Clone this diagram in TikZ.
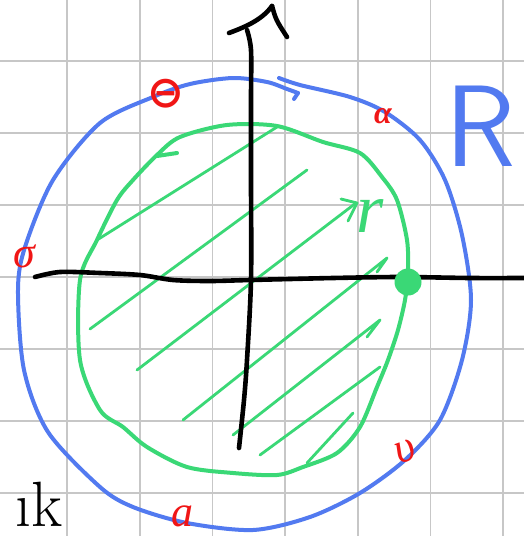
\documentclass[tikz,border=0pt]{standalone}
\usepackage{fontspec}
\newfontfamily\handfont{Liberation Serif}
\newfontfamily\marksymfont{DejaVu Sans}
\definecolor{penblue}{RGB}{82,122,240}
\definecolor{pengreen}{RGB}{58,216,118}
\definecolor{penred}{RGB}{240,22,22}
\begin{document}
\begin{tikzpicture}[x=0.5pt,y=-0.5pt,
  paperline/.style={black!22,line width=0.9pt},
  axisline/.style={line width=2.3pt,line cap=round,line join=round},
  outer/.style={penblue,line width=2pt,line cap=round,line join=round},
  inner/.style={pengreen,line width=2pt,line cap=round,line join=round},
  hatchline/.style={pengreen,line width=1.4pt,line cap=round,line join=round},
  redmark/.style={text=penred,inner sep=0pt}]
\fill[white,use as bounding box] (0,0) rectangle (524,536);
% paper grid
\foreach \gx in {67,139.7,212.4,285.1,357.8,430.5,503.2}
  \draw[paperline] (\gx,0) -- (\gx,536);
\foreach \gy in {61,133,205,277,349,421,493}
  \draw[paperline] (0,\gy) -- (524,\gy);
% outer circle R
\draw[outer] plot[smooth] coordinates {(298,93) (287,89) (267,82) (233,78) (190,84) (153,97)
  (100,123) (53,180) (25,247) (18,290) (24,370) (48,432) (100,487)
  (133,507) (187,523) (253,530) (310,517) (360,493) (405,460) (440,420)
  (462,360) (471,300) (462,235) (445,180) (420,140) (385,112) (350,97)
  (300,85) (279,78)};
\draw[outer] (298,93) -- (294,99);
% inner circle r
\draw[inner] plot[smooth cycle] coordinates {(133,180) (157,155) (180,137) (227,125)
  (277,126) (323,142) (360,153) (382,177) (397,200) (407,240) (408,273) (405,300)
  (398,330) (388,360) (377,387) (360,427) (337,453) (303,467) (277,475) (233,473)
  (187,467) (147,447) (123,427) (100,410) (80,360) (80,280) (97,240) (117,200)};
\draw[inner] (157,156) -- (177,153);
% hatching
\draw[hatchline] (97,240) -- (277,127);
\draw[hatchline] (90,329) -- (307,170);
\draw[hatchline] (137,370) -- (356,203);
\draw[hatchline] (341,199) -- (357,203) -- (348,221);
\draw[hatchline] (183,420) -- (387,258) -- (377,272);
\draw[hatchline] (233,435) -- (380,320) -- (367,337);
\draw[hatchline] (260,455) -- (380,367);
\draw[hatchline] (307,463) -- (353,413);
% axes
\draw[axisline] plot[smooth] coordinates {(35,277) (60,272) (100,273) (140,275) (173,280)
  (210,281) (250,280) (333,278) (400,277) (470,278) (524,278)};
\draw[axisline] plot[smooth] coordinates {(239,448) (244,400) (247,360) (251,280)
  (251,180) (251,100) (251,50) (247,30)};
\draw[axisline] (229,33) .. controls (245,27) and (262,20) .. (272,6);
\draw[axisline] (272,6) .. controls (276,20) .. (287,37);
% point on the inner circle
\node[circle,fill=pengreen,inner sep=0pt,minimum size=13.5pt] (dot) at (408,282) {};
% labels
\node[text=penblue,inner sep=0pt,font=\sffamily\fontsize{58}{58}\selectfont] (bigR) at (481,126) {R};
\node[text=pengreen,inner sep=0pt,font=\handfont\itshape\fontsize{35}{35}\selectfont] (smallr) at (370,216) {r};
\node[anchor=base west,inner sep=0pt,font=\fontsize{32}{32}\selectfont] (cutk) at (15,526) {\i k};
\node[redmark,font=\marksymfont\bfseries\fontsize{22}{22}\selectfont] (mtl) at (166,94) {⊖};
\node[redmark,font=\handfont\itshape\bfseries\fontsize{16}{16}\selectfont] (mtr) at (383,116) {α};
\node[redmark,font=\handfont\itshape\fontsize{22}{22}\selectfont] (mleft) at (24,256) {σ};
\node[redmark,font=\handfont\itshape\fontsize{22}{22}\selectfont,rotate=20] (mbr) at (406,452) {υ};
\node[redmark,font=\handfont\itshape\fontsize{22}{22}\selectfont] (mbot) at (182,516) {a};
\end{tikzpicture}
\end{document}
